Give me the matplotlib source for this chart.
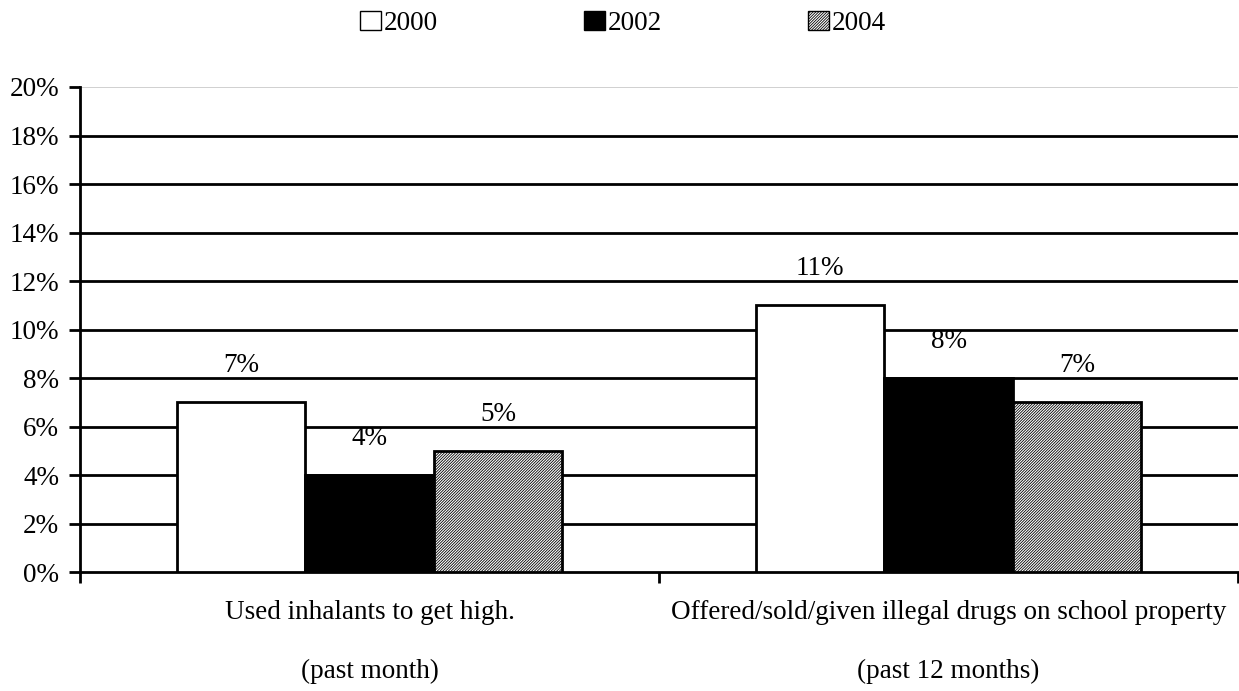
import matplotlib.pyplot as plt
import matplotlib as mpl
from matplotlib.patches import Patch
import numpy as np

categories = ["Used inhalants to get high.", "Offered/sold/given illegal drugs on school property"]
subtitles = ["(past month)", "(past 12 months)"]
years = ["2000", "2002", "2004"]
values = {
    "2000": [7, 11],
    "2002": [4, 8],
    "2004": [5, 7],
}
yticks = [0, 2, 4, 6, 8, 10, 12, 14, 16, 18, 20]

plt.rcParams['font.family'] = ['Liberation Serif', 'DejaVu Serif']
plt.rcParams['hatch.linewidth'] = 0.6
plt.rcParams['hatch.color'] = '#333333'

FS = 19.5
fig = plt.figure(figsize=(12.39, 6.91), dpi=100)
ax = fig.add_axes([80/1239, 1-572/691, 1158/1239, (572-87)/691])

styles = {
    "2000": dict(facecolor="white", hatch=None),
    "2002": dict(facecolor="black", hatch=None),
    "2004": dict(facecolor="white", hatch="////////////"),
}
w = 0.222
x = np.arange(len(categories)) + 0.5
for i, y in enumerate(years):
    pos = x + (i - 1) * w
    ax.bar(pos, values[y], width=w, edgecolor="black", linewidth=2,
           zorder=3, **styles[y])
    for p, v in zip(pos, values[y]):
        ax.text(p, v + 1.0, f"{v}%", ha="center", va="bottom", fontsize=FS)

ax.set_xlim(0, 2)
ax.set_ylim(0, 20)
ax.set_yticks(yticks)
ax.set_yticklabels([f"{t}%" for t in yticks], fontsize=FS)
for t in yticks[1:-1]:
    ax.axhline(t, color="black", linewidth=2, zorder=1)
ax.axhline(20, color="#c8c8c8", linewidth=1.2, zorder=1)
ax.set_xticks([0, 1, 2])
ax.set_xticklabels([])
ax.tick_params(axis="both", direction="out", length=8, width=2, colors="black")
ax.tick_params(axis="y", pad=7)
for s in ["top", "right"]:
    ax.spines[s].set_visible(False)
for s in ["left", "bottom"]:
    ax.spines[s].set_linewidth(2)

for xi, c, s in zip(x, categories, subtitles):
    ax.text(xi, -1.69, c, ha="center", va="center", fontsize=FS)
    ax.text(xi, -4.12, s, ha="center", va="center", fontsize=FS)

handles = [Patch(facecolor=styles[y]["facecolor"], hatch=styles[y]["hatch"],
                 edgecolor="black", linewidth=1) for y in years]
fig.legend(handles, years, loc="upper center", bbox_to_anchor=(0.503, 1.02), ncol=3,
           frameon=False, fontsize=FS, handlelength=0.75, handleheight=0.75,
           handletextpad=0.12, columnspacing=5.4)

fig.savefig("out.png", dpi=100)
